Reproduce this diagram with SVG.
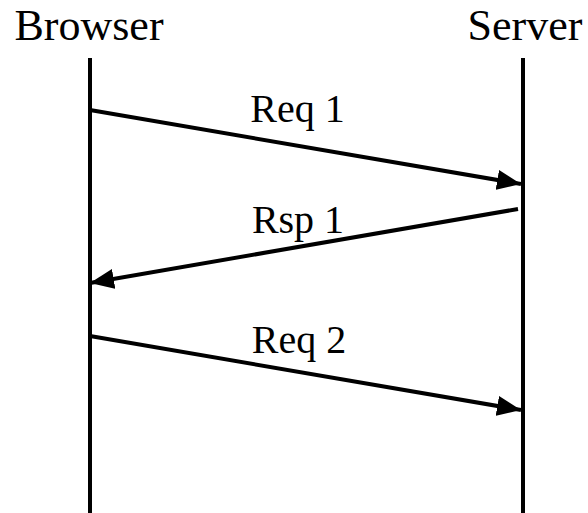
<svg xmlns="http://www.w3.org/2000/svg" width="588" height="513" viewBox="0 0 588 513">
<style>
text{font-family:"Liberation Serif","Times New Roman",serif;fill:#000}
.h{font-size:44px}
.l{font-size:40px}
.ln{stroke:#000;stroke-width:4;fill:none}
</style>
<defs>
<marker id="ah" markerWidth="6" markerHeight="5" refX="6" refY="2.5" orient="auto" markerUnits="strokeWidth">
<path d="M0,0 L6,2.5 L0,5 z" fill="#000"/>
</marker>
</defs>
<rect width="588" height="513" fill="#fff"/>
<g id="browser">
<text class="h" x="89" y="40" text-anchor="middle">Browser</text>
<line class="ln" x1="90" y1="58" x2="90" y2="513"/>
</g>
<g id="server">
<text class="h" x="525" y="40" text-anchor="middle">Server</text>
<line class="ln" x1="523" y1="58" x2="523" y2="513"/>
</g>
<g id="connectors">
<line class="ln" x1="90" y1="110" x2="521" y2="184" marker-end="url(#ah)"/>
<line class="ln" x1="518" y1="209" x2="90" y2="283" marker-end="url(#ah)"/>
<line class="ln" x1="90" y1="336" x2="521" y2="410" marker-end="url(#ah)"/>
<text class="l" x="297.5" y="122" text-anchor="middle">Req 1</text>
<text class="l" x="298" y="233" text-anchor="middle">Rsp 1</text>
<text class="l" x="299" y="353" text-anchor="middle">Req 2</text>
</g>
</svg>
